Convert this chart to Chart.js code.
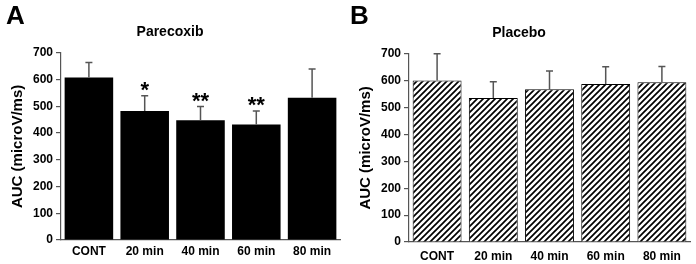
<!DOCTYPE html>
<html>
<head>
<meta charset="utf-8">
<script src="https://cdn.jsdelivr.net/npm/chart.js@4.4.1/dist/chart.umd.min.js"></script>
<style>
  body { margin: 0; background: #fff; }
  #wrap { position: relative; width: 696px; height: 264px; font-family: "Liberation Sans", Arial, sans-serif; }
  .panel { position: absolute; top: 0; width: 348px; height: 264px; }
  .letter { position: absolute; top: 0; font-weight: bold; font-size: 26px; color: #000; }
</style>
</head>
<body>
<div id="wrap">
  <div class="panel" style="left:0"><canvas id="chartA" width="348" height="264"></canvas></div>
  <div class="panel" style="left:348px"><canvas id="chartB" width="348" height="264"></canvas></div>
  <div class="letter" style="left:6px">A</div>
  <div class="letter" style="left:350px">B</div>
</div>
<script>
// values (mean and upper error)
let CATEGORIES = ["CONT", "20 min", "40 min", "60 min", "80 min"];
let PARECOXIB = [608, 482, 448, 432, 532];
let PARECOXIB_ERR = [56, 57, 51, 50, 107];
let PARECOXIB_SIG = ["", "*", "**", "**", ""];
let PLACEBO = [601, 536, 568, 588, 594];
let PLACEBO_ERR = [99, 60, 68, 64, 59];
let PLACEBO_SIG = ["", "", "", "", ""];
let Y_MAX = 700;
let Y_STEP = 100;

let FONT = "'Liberation Sans', Arial, Helvetica, sans-serif";

// diagonal hatch for the placebo bars
function hatch() {
  let c = document.createElement("canvas");
  c.width = 6; c.height = 6;
  let g = c.getContext("2d");
  g.fillStyle = "#fff";
  g.fillRect(0, 0, 6, 6);
  g.strokeStyle = "#000";
  g.lineWidth = 1.7;
  g.beginPath();
  g.moveTo(0, 6); g.lineTo(6, 0);
  g.moveTo(-1, 1); g.lineTo(1, -1);
  g.moveTo(5, 7); g.lineTo(7, 5);
  g.stroke();
  return g.createPattern(c, "repeat");
}

// whiskers (upper only) and significance stars
let errorBars = {
  id: "errorBars",
  afterDatasetsDraw(chart) {
    let ctx = chart.ctx;
    let y = chart.scales.y;
    let meta = chart.getDatasetMeta(0);
    let ds = chart.data.datasets[0];
    ctx.save();
    meta.data.forEach((bar, i) => {
      let top = y.getPixelForValue(ds.data[i] + ds.errors[i]);
      ctx.strokeStyle = "#555";
      ctx.lineWidth = 1.5;
      ctx.beginPath();
      ctx.moveTo(bar.x, bar.y);
      ctx.lineTo(bar.x, top);
      ctx.moveTo(bar.x - 3.5, top);
      ctx.lineTo(bar.x + 3.5, top);
      ctx.stroke();
      if (ds.sig[i]) {
        ctx.fillStyle = "#000";
        ctx.font = "bold 22px " + FONT;
        ctx.textAlign = "center";
        ctx.textBaseline = "alphabetic";
        ctx.fillText(ds.sig[i], bar.x, top + 1);
      }
    });
    ctx.restore();
  }
};

function makeChart(id, title, values, errors, sig, fill, border, yWidth, padRight, xHeight, labelPad, titleTop) {
  return new Chart(document.getElementById(id), {
    type: "bar",
    data: {
      labels: CATEGORIES,
      datasets: [{
        data: values,
        errors: errors,
        sig: sig,
        backgroundColor: fill,
        borderColor: "#000",
        borderWidth: border,
        categoryPercentage: 1,
        barPercentage: 0.87
      }]
    },
    options: {
      responsive: false,
      animation: false,
      layout: { padding: { top: 0, right: padRight, bottom: 0, left: 0 } },
      plugins: {
        legend: { display: false },
        tooltip: { enabled: false },
        title: {
          display: true,
          text: title,
          color: "#000",
          font: { family: FONT, size: 14, weight: "bold" },
          padding: { top: titleTop, bottom: 12 }
        }
      },
      scales: {
        x: {
          grid: { display: false, drawTicks: false },
          border: { display: true, color: "#555", width: 1.2 },
          ticks: { color: "#000", padding: labelPad, font: { family: FONT, size: 12, weight: "bold" } },
          afterFit(scale) { scale.height = xHeight; }
        },
        y: {
          min: 0,
          max: Y_MAX,
          ticks: { stepSize: Y_STEP, color: "#000", padding: 3, font: { family: FONT, size: 12, weight: "bold" } },
          grid: { display: true, drawOnChartArea: false, drawTicks: true, tickLength: 5, color: "#555", lineWidth: 1.2 },
          border: { display: true, color: "#555", width: 1.2 },
          title: {
            display: true,
            text: "AUC (microV/ms)",
            color: "#000",
            font: { family: FONT, size: 15, weight: "bold" },
            padding: { top: 9, bottom: 0 }
          },
          afterFit(scale) { scale.width = yWidth; }
        }
      }
    },
    plugins: [errorBars]
  });
}

makeChart("chartA", "Parecoxib", PARECOXIB, PARECOXIB_ERR, PARECOXIB_SIG, "#000", 0, 61, 8, 24, 4, 24);
makeChart("chartB", "Placebo", PLACEBO, PLACEBO_ERR, PLACEBO_SIG, hatch(), 1, 61, 6, 22, 7, 25);
</script>
</body>
</html>
